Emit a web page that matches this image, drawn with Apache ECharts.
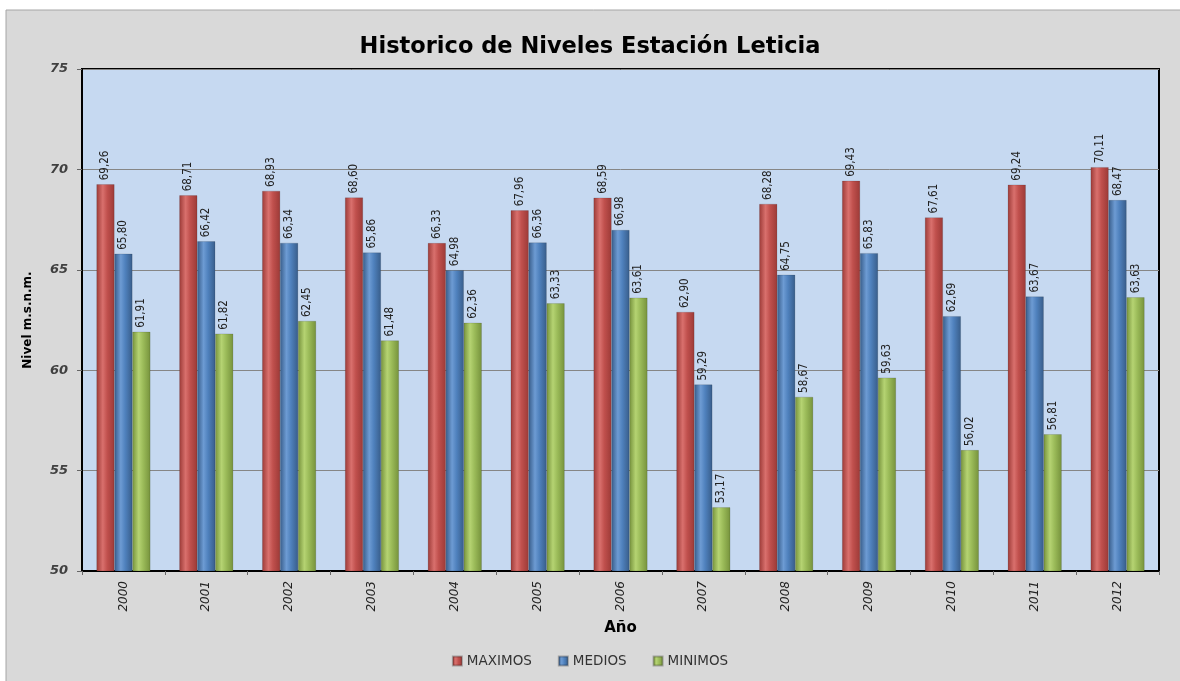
<!DOCTYPE html>
<html><head><meta charset="utf-8">
<script src="https://cdn.jsdelivr.net/npm/echarts@6/dist/echarts.min.js"></script>
<style>html,body{margin:0;padding:0;background:#fff}#c{width:1180px;height:681px}</style>
</head><body><div id="c"></div>
<script>
const years = ['2000','2001','2002','2003','2004','2005','2006','2007','2008','2009','2010','2011','2012'];
const maximos = [69.26,68.71,68.93,68.60,66.33,67.96,68.59,62.90,68.28,69.43,67.61,69.24,70.11];
const medios  = [65.80,66.42,66.34,65.86,64.98,66.36,66.98,59.29,64.75,65.83,62.69,63.67,68.47];
const minimos = [61.91,61.82,62.45,61.48,62.36,63.33,63.61,53.17,58.67,59.63,56.02,56.81,63.63];
const seriesNames = ['MAXIMOS','MEDIOS','MINIMOS'];

function grad(dark, mid, light){
  return new echarts.graphic.LinearGradient(0,0,1,0,[
    {offset:0,color:dark},{offset:0.35,color:light},{offset:0.6,color:mid},{offset:1,color:dark}]);
}
const colors = [
  grad('#9c3a37','#c0504d','#d9706d'),
  grad('#385d8a','#4f81bd','#6d9bd3'),
  grad('#76923c','#9bbb59','#b5d372')
];
const legendColors = ['#c0504d','#4f81bd','#9bbb59'];
const fmt = p => p.value.toFixed(2).replace('.', ',');
const chart = echarts.init(document.getElementById('c'));
const mk = (name, data, i) => ({
  name, type:'bar', data, barGap:'0%', barCategoryGap:'35%',
  itemStyle:{color:colors[i], borderColor:'rgba(0,0,0,0.25)', borderWidth:0.5},
  label:{show:true, position:'top', rotate:90, align:'left', verticalAlign:'middle', distance:4,
    formatter:fmt, fontFamily:'DejaVu Sans Condensed, Liberation Sans Narrow, sans-serif', fontSize:11.5, color:'#222'}
});
chart.setOption({
  animation:false,
  backgroundColor:'#fff',
  color: legendColors,
  graphic:[{type:'rect', z:-10, shape:{x:6,y:10,width:1200,height:700}, style:{fill:'#d9d9d9', stroke:'#a6a6a6', lineWidth:1}}],
  title:{text:'Historico de Niveles Estación Leticia', left:'center', top:31,
    textStyle:{fontFamily:'DejaVu Sans, sans-serif', fontWeight:'bold', fontSize:22.5, color:'#000'}},
  legend:{data:seriesNames, bottom:8, left:'center', itemWidth:9, itemHeight:9, itemGap:26, icon:'rect',
    textStyle:{fontFamily:'DejaVu Sans, sans-serif', fontSize:13.5, color:'#333'}},
  grid:{left:82, right:21, top:69, bottom:110, show:true, backgroundColor:'#c6d9f1', borderColor:'#000', borderWidth:2},
  xAxis:{type:'category', data:years, name:'Año', nameLocation:'middle', nameGap:50,
    nameTextStyle:{fontFamily:'DejaVu Sans, sans-serif', fontWeight:'bold', fontSize:15, color:'#000'},
    axisLine:{lineStyle:{color:'#000', width:2}},
    axisTick:{show:true, alignWithLabel:false, length:4, lineStyle:{color:'#666'}},
    axisLabel:{rotate:90, fontStyle:'italic', fontFamily:'DejaVu Sans, sans-serif', fontSize:12, color:'#222', margin:10}},
  yAxis:{type:'value', min:50, max:75, interval:5, name:'Nivel m.s.n.m.', nameLocation:'middle', nameGap:48, nameRotate:90,
    nameTextStyle:{fontFamily:'DejaVu Sans, sans-serif', fontWeight:'bold', fontSize:12, color:'#000'},
    axisLine:{show:true, lineStyle:{color:'#000', width:2}},
    axisTick:{show:true, length:5, lineStyle:{color:'#666'}},
    splitLine:{lineStyle:{color:'#868686', width:1}},
    axisLabel:{fontStyle:'italic', fontWeight:'bold', fontFamily:'DejaVu Sans, sans-serif', fontSize:13, color:'#404040', margin:14}},
  series:[mk(seriesNames[0], maximos, 0), mk(seriesNames[1], medios, 1), mk(seriesNames[2], minimos, 2)]
});
</script></body></html>
